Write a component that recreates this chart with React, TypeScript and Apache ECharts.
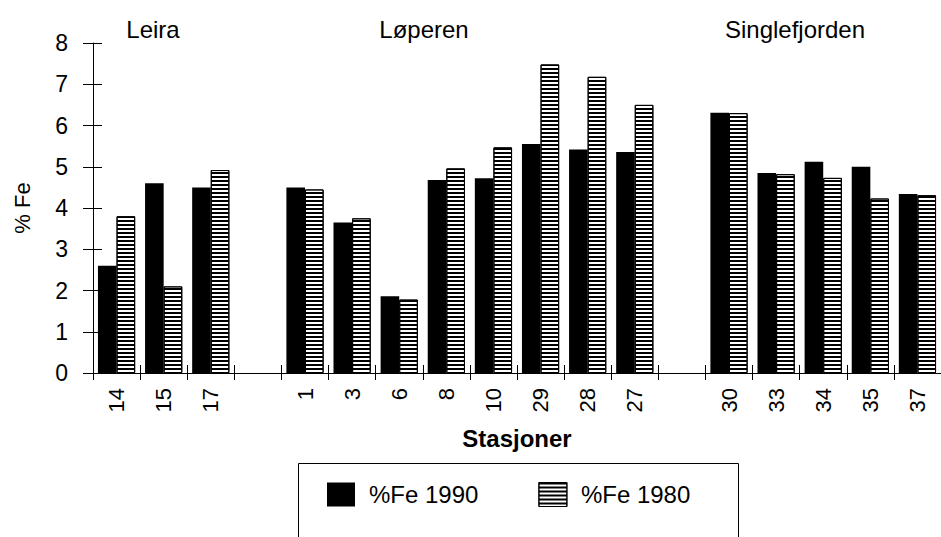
import React, { useEffect, useRef } from "react";
import * as echarts from "echarts";

const stations = ["14", "15", "17", " ", "1", "3", "6", "8", "10", "29", "28", "27", "  ", "30", "33", "34", "35", "37"];
const fe1990 = [2.6, 4.6, 4.5, "-", 4.5, 3.65, 1.86, 4.68, 4.72, 5.55, 5.42, 5.36, "-", 6.31, 4.85, 5.12, 5.0, 4.34];
const fe1980 = [3.8, 2.1, 4.92, "-", 4.45, 3.75, 1.78, 4.96, 5.47, 7.48, 7.18, 6.5, "-", 6.3, 4.82, 4.73, 4.23, 4.31];
const seriesNames = ["%Fe 1990", "%Fe 1980"];
const groupNames = ["Leira", "Løperen", "Singlefjorden"];
const yMin = 0;
const yMax = 8;
const yInterval = 1;

const FONT = "'Liberation Sans', Arial, Helvetica, sans-serif";

const hatch = {
  symbol: "rect",
  symbolSize: 1,
  color: "#000",
  backgroundColor: "#fff",
  dashArrayX: [1, 0],
  dashArrayY: [2, 2],
  rotation: 0,
};

export default function App() {
  const ref = useRef<HTMLDivElement>(null);
  useEffect(() => {
    if (!ref.current) return;
    const chart = echarts.init(ref.current, null, { renderer: "svg" });
    const groupX = [153, 424, 795];
    chart.setOption({
      animation: false,
      backgroundColor: "#fff",
      grid: { left: 93, top: 43, right: -6, bottom: 164 },
      xAxis: [
        {
          type: "category",
          position: "bottom",
          data: stations,
          axisLine: { lineStyle: { color: "#000", width: 1 } },
          axisTick: { show: true, interval: 0, length: 7, lineStyle: { color: "#000" } },
          axisLabel: {
            interval: 0,
            rotate: 90,
            margin: 15,
            color: "#000",
            fontFamily: FONT,
            fontSize: 22,
          },
        },
        {
          type: "category",
          position: "bottom",
          data: stations,
          axisLine: { show: false },
          axisTick: { show: true, inside: true, interval: 0, length: 8, lineStyle: { color: "#000" } },
          axisLabel: { show: false },
        },
      ],
      yAxis: [
        {
          type: "value",
          position: "left",
          min: yMin,
          max: yMax,
          interval: yInterval,
          name: "% Fe",
          nameLocation: "middle",
          nameGap: 60,
          nameRotate: 90,
          nameTextStyle: { color: "#000", fontFamily: FONT, fontSize: 22 },
          splitLine: { show: false },
          axisLine: { show: true, lineStyle: { color: "#000", width: 1 } },
          axisTick: { show: true, length: 10, lineStyle: { color: "#000" } },
          axisLabel: { margin: 25, color: "#000", fontFamily: FONT, fontSize: 23 },
        },
        {
          type: "value",
          position: "left",
          min: yMin,
          max: yMax,
          interval: yInterval,
          splitLine: { show: false },
          axisLine: { show: false },
          axisTick: { show: true, inside: true, length: 9, lineStyle: { color: "#000" } },
          axisLabel: { show: false },
        },
      ],
      legend: {
        left: 322,
        top: 477,
        icon: "rect",
        itemWidth: 28,
        itemHeight: 24,
        itemGap: 60,
        textStyle: { color: "#000", fontFamily: FONT, fontSize: 24, padding: [0, 0, 0, 9] },
        data: [
          { name: seriesNames[0], itemStyle: { color: "#000" } },
          { name: seriesNames[1], itemStyle: { color: "#fff", borderColor: "#000", borderWidth: 1, decal: hatch } },
        ],
      },
      graphic: [
        ...groupNames.map((g, i) => ({
          type: "text",
          x: groupX[i],
          y: 29,
          style: {
            text: g,
            fill: "#000",
            font: `24px ${FONT}`,
            textAlign: "center",
            textVerticalAlign: "middle",
          },
        })),
        {
          type: "text",
          x: 517,
          y: 438,
          style: {
            text: "Stasjoner",
            fill: "#000",
            font: `bold 24px ${FONT}`,
            textAlign: "center",
            textVerticalAlign: "middle",
          },
        },
        {
          type: "rect",
          shape: { x: 298.5, y: 463.5, width: 440, height: 100 },
          style: { fill: "none", stroke: "#000", lineWidth: 1 },
          z: 10,
        },
      ],
      series: [
        {
          name: seriesNames[0],
          type: "bar",
          data: fe1990,
          barGap: "0%",
          barCategoryGap: "21%",
          itemStyle: { color: "#000" },
        },
        {
          name: seriesNames[1],
          type: "bar",
          data: fe1980,
          barGap: "0%",
          barCategoryGap: "21%",
          itemStyle: { color: "#fff", borderColor: "#000", borderWidth: 1, decal: hatch },
        },
      ],
    });
    return () => chart.dispose();
  }, []);
  return (
    <div
      ref={ref}
      style={{ position: "fixed", left: 0, top: 0, width: 941, height: 537, background: "#fff" }}
    />
  );
}
